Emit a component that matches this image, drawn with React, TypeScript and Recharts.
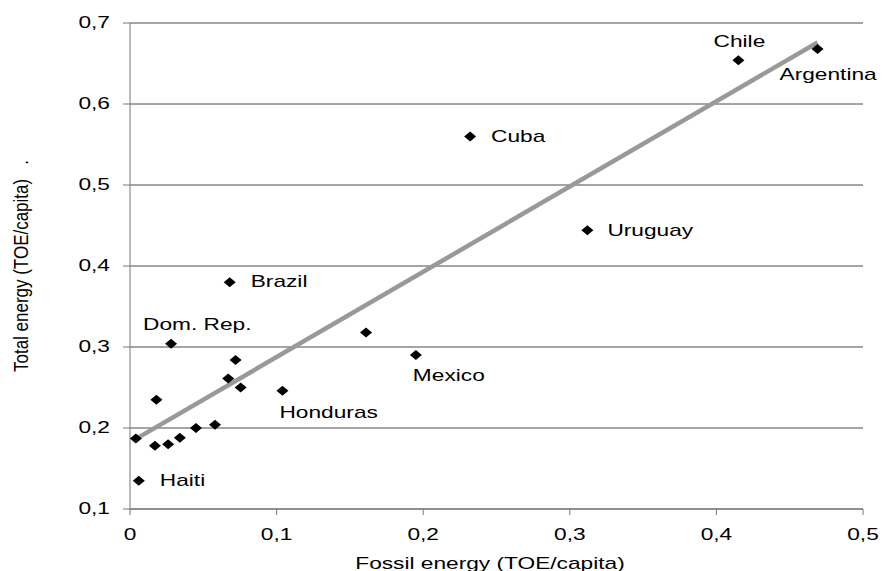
import {
  ScatterChart,
  Scatter,
  XAxis,
  YAxis,
  CartesianGrid,
  ReferenceLine,
} from "recharts";

// country labels ("" = unlabelled point)
const countries = [
  "Chile", "Argentina", "Cuba", "Uruguay", "Brazil", "Dom. Rep.", "Mexico", "Honduras", "Haiti",
  "", "", "", "", "", "", "", "", "", "", "",
];
const fossilEnergy = [
  0.415, 0.469, 0.232, 0.312, 0.068, 0.028, 0.195, 0.104, 0.006,
  0.072, 0.018, 0.067, 0.0755, 0.161, 0.004, 0.017, 0.026, 0.034, 0.045, 0.058,
];
const totalEnergy = [
  0.654, 0.668, 0.560, 0.444, 0.380, 0.304, 0.290, 0.246, 0.135,
  0.284, 0.235, 0.261, 0.250, 0.318, 0.187, 0.178, 0.180, 0.188, 0.200, 0.204,
];
// linear trend line end points
const trendX = [0.0035, 0.469];
const trendY = [0.186, 0.676];

const xTicks = [0, 0.1, 0.2, 0.3, 0.4, 0.5];
const yTicks = [0.1, 0.2, 0.3, 0.4, 0.5, 0.6, 0.7];

const FONT = '"Liberation Sans", Arial, sans-serif';
const STRETCH = 1.42;

// where each label sits relative to its marker
const labelPos: Record<string, { dx: number; dy: number; anchor: string }> = {
  Chile: { dx: 1, dy: -13.5, anchor: "middle" },
  Argentina: { dx: -38, dy: 31, anchor: "start" },
  Cuba: { dx: 21, dy: 5.5, anchor: "start" },
  Uruguay: { dx: 20, dy: 5.5, anchor: "start" },
  Brazil: { dx: 21, dy: 5, anchor: "start" },
  "Dom. Rep.": { dx: -28, dy: -13.5, anchor: "start" },
  Mexico: { dx: -3, dy: 25.5, anchor: "start" },
  Honduras: { dx: -3, dy: 27.5, anchor: "start" },
  Haiti: { dx: 21, dy: 5, anchor: "start" },
};

const fmt = (v: number) => (v === 0 ? "0" : v.toFixed(1).replace(".", ","));

const WideText = ({ x, y, anchor, size = 16, children }: any) => (
  <text
    transform={`translate(${x},${y}) scale(${STRETCH},1)`}
    textAnchor={anchor}
    fontFamily={FONT}
    fontSize={size}
    fill="#000"
  >
    {children}
  </text>
);

const XTick = ({ x, y, payload }: any) => (
  <WideText x={x} y={y + 23} anchor="middle">
    {fmt(payload.value)}
  </WideText>
);

const YTick = ({ x, y, payload }: any) => (
  <WideText x={x - 11} y={y + 4.5} anchor="end">
    {fmt(payload.value)}
  </WideText>
);

const Diamond = (props: any) => {
  const { cx, cy, payload } = props;
  const pos = labelPos[payload.name];
  return (
    <g>
      <polygon
        points={`${cx - 6},${cy} ${cx},${cy - 5} ${cx + 6},${cy} ${cx},${cy + 5}`}
        fill="#000"
      />
      {pos && (
        <WideText x={cx + pos.dx} y={cy + pos.dy} anchor={pos.anchor}>
          {payload.name}
        </WideText>
      )}
    </g>
  );
};

export default function App() {
  const data = countries.map((name, i) => ({
    name,
    x: fossilEnergy[i],
    y: totalEnergy[i],
  }));

  return (
    <div style={{ position: "absolute", left: 0, top: 0, background: "#fff" }}>
      <ScatterChart
        width={885}
        height={571}
        margin={{ top: 23, right: 22, bottom: 0, left: 0 }}
      >
        <CartesianGrid horizontal vertical={false} stroke="#4a4a4a" />
        <XAxis
          type="number"
          dataKey="x"
          domain={[0, 0.5]}
          ticks={xTicks}
          height={62}
          stroke="#777"
          tickSize={6}
          tick={<XTick />}
        />
        <YAxis
          type="number"
          dataKey="y"
          domain={[0.1, 0.7]}
          ticks={yTicks}
          width={130}
          stroke="#777"
          tickSize={7}
          tick={<YTick />}
        />
        <Scatter data={data} shape={<Diamond />} isAnimationActive={false} />
        <ReferenceLine
          segment={[
            { x: trendX[0], y: trendY[0] },
            { x: trendX[1], y: trendY[1] },
          ]}
          stroke="#999"
          strokeWidth={4.5}
          ifOverflow="visible"
        />
        <text
          transform={`translate(490,568.5) scale(${STRETCH},1)`}
          textAnchor="middle"
          fontFamily={FONT}
          fontSize={16}
        >
          Fossil energy (TOE/capita)
        </text>
        <text
          transform="translate(28,372) rotate(-90) scale(1,1.15)"
          textAnchor="start"
          fontFamily={FONT}
          fontSize={17}
          style={{ whiteSpace: "pre" }}
        >
          {"Total energy (TOE/capita)   ."}
        </text>
      </ScatterChart>
    </div>
  );
}
